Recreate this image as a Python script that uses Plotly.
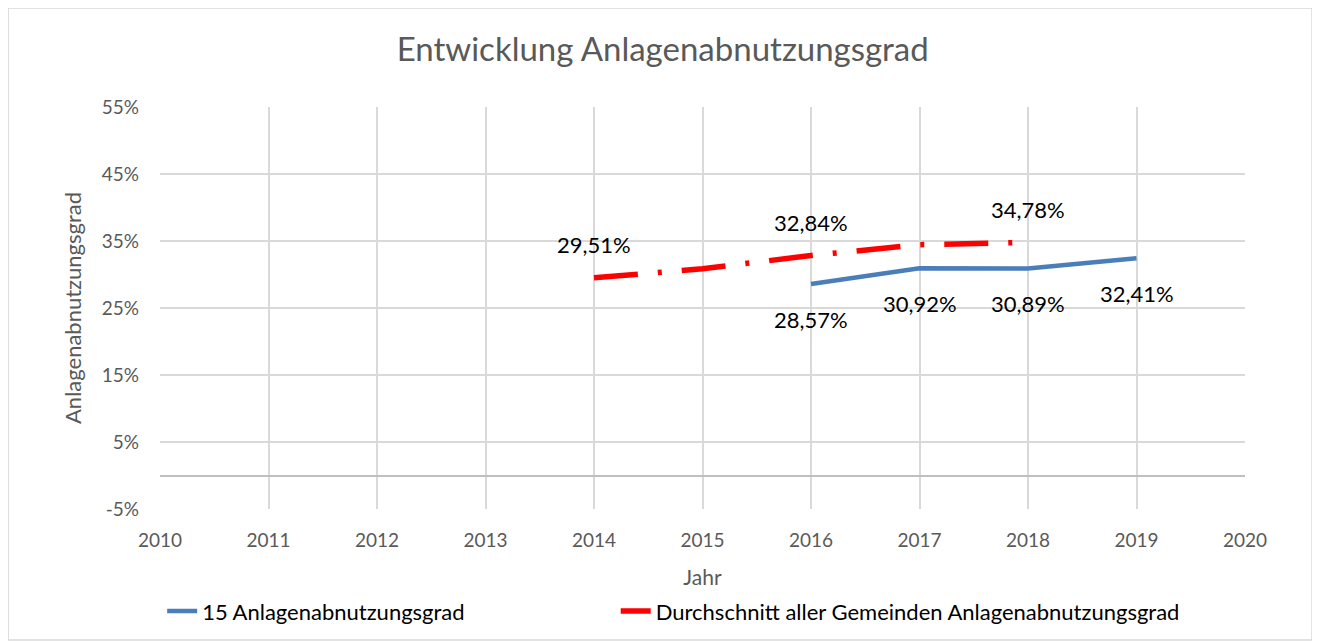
import plotly.graph_objects as go

years_blue = [2016, 2017, 2018, 2019]
values_blue = [28.57, 30.92, 30.89, 32.41]
labels_blue = ["28,57%", "30,92%", "30,89%", "32,41%"]

years_red = [2014, 2015, 2016, 2017, 2018]
values_red = [29.51, 30.85, 32.84, 34.45, 34.78]
labels_red = ["29,51%", "", "32,84%", "", "34,78%"]

y_ticks = [-5, 5, 15, 25, 35, 45, 55]
y_tick_text = ["-5%", "5%", "15%", "25%", "35%", "45%", "55%"]
x_ticks = list(range(2010, 2021))

FONT = "Lato, Calibri, sans-serif"
GREY = "#595959"

fig = go.Figure()
fig.add_trace(go.Scatter(
    x=years_blue, y=values_blue, name="15 Anlagenabnutzungsgrad",
    mode="lines", line=dict(color="#4a7ebb", width=4.5), legend="legend",
))
fig.add_trace(go.Scatter(
    x=years_red, y=values_red, name="Durchschnitt aller Gemeinden Anlagenabnutzungsgrad",
    mode="lines", line=dict(color="#ff0000", width=5.5, dash="44px,20px,4px,20px"),
    legend="legend2",
))

# data labels: red above, blue below
for x, y, t in zip(years_red, values_red, labels_red):
    if t:
        fig.add_annotation(x=x, y=y, text=t, showarrow=False, yshift=33,
                           font=dict(size=22, color="black", family=FONT))
for x, y, t in zip(years_blue, values_blue, labels_blue):
    fig.add_annotation(x=x, y=y, text=t, showarrow=False, yshift=-35,
                       font=dict(size=22, color="black", family=FONT))

legend_style = dict(orientation="h", y=-0.254, yanchor="middle", xanchor="left",
                    font=dict(size=22, color="black"), bgcolor="rgba(0,0,0,0)")

fig.update_layout(
    width=1320, height=643,
    # page body adds 8px, so margins are shifted by 8
    margin=dict(l=152, r=83, t=99, b=142),
    paper_bgcolor="white", plot_bgcolor="white",
    font=dict(family=FONT, color=GREY, size=19),
    title=dict(text="Entwicklung Anlagenabnutzungsgrad", x=0.496, xref="container",
               xanchor="center", y=0.935, yanchor="middle", font=dict(size=33, color=GREY)),
    xaxis=dict(range=[2010, 2020], tickvals=x_ticks, showgrid=True, gridcolor="#d9d9d9",
               gridwidth=1.5, zeroline=False, ticks="", ticklabelstandoff=18,
               tickfont=dict(size=19, color=GREY), automargin=False,
               title=dict(text="Jahr", font=dict(size=21, color=GREY), standoff=20)),
    yaxis=dict(range=[-5, 55], tickvals=y_ticks, ticktext=y_tick_text, showgrid=True,
               gridcolor="#d9d9d9", gridwidth=1.5, zeroline=True, zerolinecolor="#bfbfbf",
               zerolinewidth=1.5, ticks="", ticklabelstandoff=20,
               tickfont=dict(size=19, color=GREY), automargin=False,
               title=dict(text="Anlagenabnutzungsgrad", font=dict(size=22, color=GREY), standoff=14)),
    showlegend=True,
    legend=dict(x=0.002, **legend_style),
    legend2=dict(x=0.42, **legend_style),
    shapes=[dict(type="rect", xref="paper", yref="paper", x0=-0.140, x1=1.0618,
                 y0=-0.326, y1=1.246, line=dict(color="#d9d9d9", width=1.5))],
)

fig.write_html("out.html")
